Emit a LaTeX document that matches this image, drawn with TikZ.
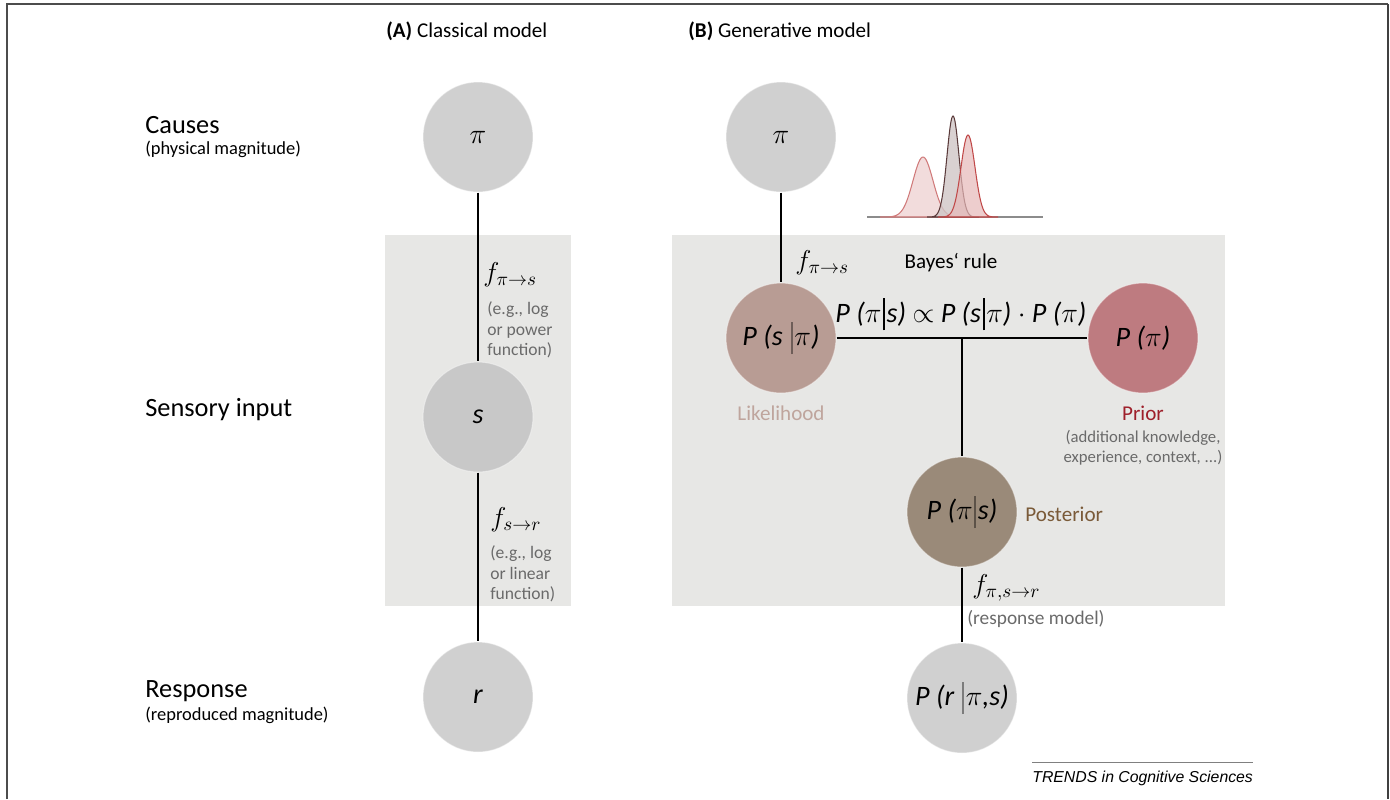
\RequirePackage{fix-cm}
\documentclass[tikz,border=0pt]{standalone}
\usepackage{fontspec}
\setmainfont{Carlito}
\newfontfamily\trendsfont{Liberation Sans}
\definecolor{panelgray}{HTML}{E7E7E5}
\definecolor{nodegray}{HTML}{D0D0D0}
\definecolor{sgray}{HTML}{C8C8C8}
\definecolor{likcol}{HTML}{B89C94}
\definecolor{priorcol}{HTML}{BE7B80}
\definecolor{postcol}{HTML}{9A8A79}
\definecolor{notegray}{HTML}{6A6A6A}
\definecolor{liktext}{HTML}{BFA59D}
\definecolor{priortext}{HTML}{9E1F2A}
\definecolor{posttext}{HTML}{7A5A38}
\definecolor{dleft}{HTML}{F0D6D6}
\definecolor{dleftline}{HTML}{D07A7A}
\definecolor{dmid}{HTML}{CFC6C6}
\definecolor{dmidline}{HTML}{5A3A3A}
\definecolor{dright}{HTML}{E6B8B8}
\definecolor{drightline}{HTML}{C04848}
\newcommand{\headsz}{\fontsize{12}{14}\selectfont}
\newcommand{\rowsz}{\fontsize{15}{18}\selectfont}
\newcommand{\subsz}{\fontsize{10.5}{12.5}\selectfont}
\newcommand{\notesz}{\fontsize{10}{11.7}\selectfont}
\newcommand{\mathsz}{\fontsize{16}{18}\selectfont\itshape}
\newcommand{\fsz}{\fontsize{15.5}{18}\selectfont}
\newcommand{\labsz}{\fontsize{12}{14}\selectfont}
\newcommand{\cond}{\hspace{0.06em}\vrule height 0.85em depth 0.3em width 0.065em\hspace{0.06em}}
\begin{document}
\begin{tikzpicture}[x=0.02cm,y=-0.02cm,
    var/.style={circle,minimum size=2.2cm,inner sep=0pt,fill=#1,draw=white,draw opacity=0.4,line width=0.6pt,font=\mathsz},
    var/.default=nodegray,
    link/.style={line width=1.2pt},
    note/.style={anchor=west,align=left,inner xsep=0pt,text=notegray,font=\notesz},
    fname/.style={anchor=base west,inner xsep=0pt,font=\fsz},
    rowname/.style={anchor=base west,inner xsep=0pt,font=\rowsz},
    rowsub/.style={anchor=base west,inner xsep=0pt,font=\subsz}]
\useasboundingbox (0,0) rectangle (1390,799);
\draw[black!70,line width=0.6pt] (7,799) -- (7,4) -- (1388,4);
\draw[black!75,line width=1.2pt] (1388,4) -- (1388,799);
\fill[panelgray] (385,235) rectangle (571,606);
\fill[panelgray] (672,235) rectangle (1225,606);
\node[anchor=base west,inner xsep=0pt,font=\headsz] (headA) at (386,37) {\textbf{(A)} Classical model};
\node[anchor=base west,inner xsep=0pt,font=\headsz] (headB) at (688,37) {\textbf{(B)} Generative model};
\node[rowname] (causes) at (145,133) {Causes};
\node[rowsub] (causessub) at (145,154) {(physical magnitude)};
\node[rowname] (sensory) at (145,416) {Sensory input};
\node[rowname] (response) at (145,697) {Response};
\node[rowsub] (responsesub) at (145,720) {(reproduced magnitude)};
\draw[black!45,line width=0.6pt] (867,217) -- (1043,217);
\filldraw[fill=dleft,draw=dleftline,line width=0.6pt,fill opacity=0.85] plot[domain=880:966,samples=70,smooth] (\x,{217-60*exp(-0.5*((\x-923)/10)*((\x-923)/10))}) -- cycle;
\filldraw[fill=dmid,draw=dmidline,line width=0.6pt,fill opacity=0.8] plot[domain=927:979,samples=70,smooth] (\x,{217-101*exp(-0.5*((\x-953)/6)*((\x-953)/6))}) -- cycle;
\filldraw[fill=dright,draw=drightline,line width=0.6pt,fill opacity=0.7] plot[domain=938:998,samples=70,smooth] (\x,{217-82*exp(-0.5*((\x-968)/7)*((\x-968)/7))}) -- cycle;
\node[var] (piA) at (478,137) {$\pi$};
\node[var=sgray] (sA) at (478,417) {s};
\node[var] (rA) at (478,697) {r};
\node[var] (piB) at (781,137) {$\pi$};
\node[var=likcol] (lik) at (781,338) {P (s \cond$\pi$)};
\node[var=priorcol] (prior) at (1143,338) {P ($\pi$)};
\node[var=postcol] (post) at (962,512) {P ($\pi$\cond s)};
\node[var] (rB) at (962,698) {P (r \cond$\pi$,s)};
\draw[link] (piA) -- (sA);
\draw[link] (sA) -- (rA);
\draw[link] (piB) -- (lik);
\draw[link] (lik) -- (prior);
\draw[link] (lik.east -| post) -- (post);
\draw[link] (post) -- (rB);
\node[fname] (fpisA) at (483,281) {$f_{\pi\rightarrow s}$};
\node[note] (noteA1) at (487,330) {(e.g., log\\or power\\function)};
\node[fname] (fsrA) at (490,526) {$f_{s\rightarrow r}$};
\node[note] (noteA2) at (490,574) {(e.g., log\\or linear\\function)};
\node[fname] (fpisB) at (795,269) {$f_{\pi\rightarrow s}$};
\node[anchor=base,font=\labsz] (bayes) at (951,268) {Bayes‘ rule};
\node[anchor=base,font=\mathsz] (bayeseq) at (961,322) {P ($\pi$\cond s) $\propto$ P (s\cond$\pi$) $\cdot$ P ($\pi$)};
\node[anchor=base,font=\labsz,text=liktext] (likname) at (781,420) {Likelihood};
\node[anchor=base,font=\labsz,text=priortext] (priorname) at (1143,420) {Prior};
\node[align=center,text=notegray,font=\fontsize{9.5}{11.2}\selectfont] (priornote) at (1143,448) {(additional knowledge,\\experience, context, ...)};
\node[anchor=base west,inner xsep=0pt,font=\labsz,text=posttext] (postname) at (1025,521) {Posterior};
\node[fname] (fpsrB) at (972,593) {$f_{\pi{,}s\rightarrow r}$};
\node[anchor=base west,inner xsep=0pt,text=notegray,font=\fontsize{11}{13}\selectfont] (respnote) at (967,624) {(response model)};
\node[anchor=base west,inner xsep=0pt,font=\trendsfont\fontsize{9}{11}\selectfont\itshape] (trends) at (1032,782) {TRENDS in Cognitive Sciences};
\draw[black!50,line width=0.8pt] ([yshift=1pt]trends.north west) -- ([yshift=1pt]trends.north east);
\end{tikzpicture}
\end{document}
